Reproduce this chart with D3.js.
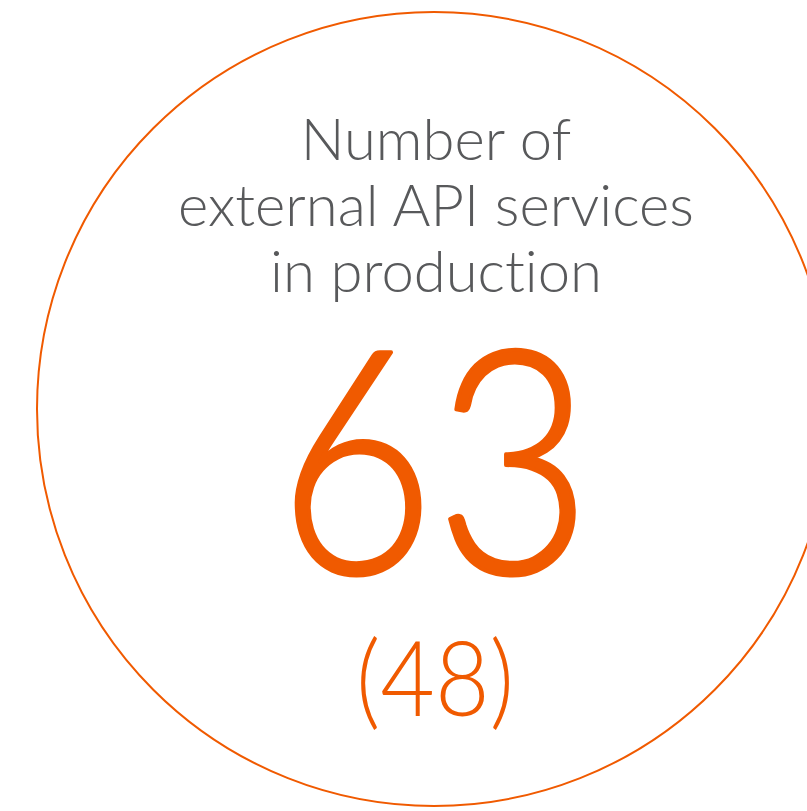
<!DOCTYPE html>
<html><head><meta charset="utf-8">
<script src="https://cdn.jsdelivr.net/npm/d3@7"></script>
<style>html,body{margin:0;padding:0;background:#fff;overflow:hidden} text{font-variant-ligatures:none}</style>
</head><body>
<script>
const titleLines = ["Number of", "external API services", "in production"];
const currentValue = [63];
const previousValue = [48];

const W = 807, H = 811;
const svg = d3.select("body").append("svg").attr("width", W).attr("height", H);
const orange = "#f05a00", gray = "#58595b";
const cx = 434, cy = 409, r = 397;

svg.append("circle").attr("cx", cx).attr("cy", cy).attr("r", r)
  .attr("fill", "none").attr("stroke", orange).attr("stroke-width", 2);

const y = d3.scalePoint().domain(titleLines).range([160, 292]);
svg.selectAll("text.title").data(titleLines).join("text")
  .attr("class", "title")
  .attr("x", 436).attr("y", d => y(d))
  .attr("text-anchor", "middle")
  .attr("font-family", "Lato, sans-serif").attr("font-weight", 300)
  .attr("font-size", 58).attr("fill", gray)
  .text(d => d);

svg.selectAll("text.val").data(currentValue).join("text")
  .attr("class", "val")
  .attr("x", 435).attr("y", 573)
  .attr("text-anchor", "middle")
  .attr("font-family", "Lato, sans-serif").attr("font-weight", 300)
  .attr("font-size", 312).attr("fill", orange)
  .attr("stroke", orange).attr("stroke-width", 4).attr("stroke-linejoin", "round")
  .attr("textLength", 314).attr("lengthAdjust", "spacingAndGlyphs")
  .text(d => d3.format("d")(d));

svg.selectAll("text.prev").data(previousValue).join("text")
  .attr("class", "prev")
  .attr("x", 435).attr("y", 716)
  .attr("text-anchor", "middle")
  .attr("font-family", "Lato, sans-serif").attr("font-weight", 300)
  .attr("font-size", 104).attr("fill", orange)
  .attr("textLength", 158).attr("lengthAdjust", "spacingAndGlyphs")
  .text(d => "(" + d3.format("d")(d) + ")");
</script>
</body></html>
